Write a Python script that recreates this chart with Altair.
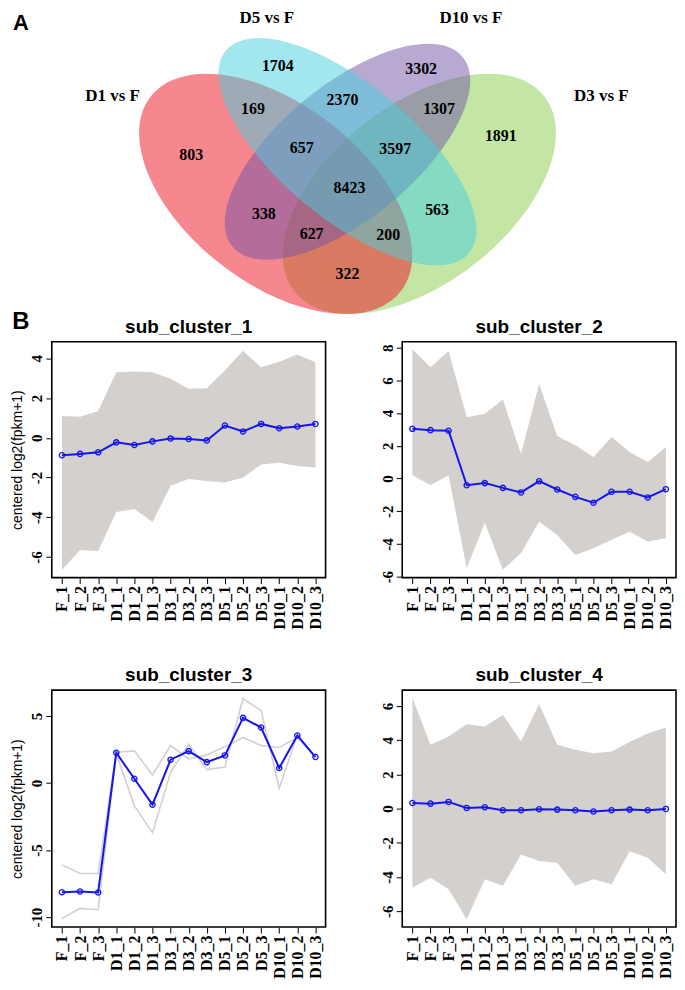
import json
import altair as alt
import pandas as pd

# ---------------- data ----------------
samples = ["F_1", "F_2", "F_3", "D1_1", "D1_2", "D1_3", "D3_1", "D3_2", "D3_3",
           "D5_1", "D5_2", "D5_3", "D10_1", "D10_2", "D10_3"]

# sub_cluster_1: centroid (blue) and the envelope of the grey member profiles
c1_mean = [-0.88, -0.81, -0.73, -0.23, -0.36, -0.18, -0.03, -0.06, -0.13, 0.62, 0.32, 0.70, 0.48, 0.57, 0.70]
c1_upper = [1.10, 1.06, 1.35, 3.30, 3.34, 3.30, 2.97, 2.47, 2.50, 3.39, 4.38, 3.55, 3.83, 4.20, 3.80]
c1_lower = [-6.65, -5.65, -5.70, -3.74, -3.58, -4.24, -2.42, -2.08, -2.17, -2.25, -2.00, -1.34, -1.26, -1.42, -1.50]

# sub_cluster_2
c2_mean = [3.04, 2.96, 2.92, -0.41, -0.28, -0.57, -0.85, -0.16, -0.67, -1.12, -1.48, -0.81, -0.81, -1.16, -0.65]
c2_upper = [7.91, 6.80, 7.80, 3.75, 3.96, 4.83, 1.50, 5.78, 2.60, 2.03, 1.32, 2.54, 1.62, 1.01, 1.93]
c2_lower = [0.20, -0.40, 0.20, -5.48, -2.70, -5.58, -4.56, -2.64, -3.45, -4.67, -4.26, -3.75, -3.25, -3.85, -3.65]

# sub_cluster_3: centroid and its two member genes
c3_mean = [-8.14, -8.09, -8.16, 2.26, 0.32, -1.61, 1.74, 2.38, 1.56, 2.06, 4.86, 4.14, 1.12, 3.55, 1.94]
c3_gene_a = [-6.10, -6.75, -6.75, 2.30, 2.40, 0.60, 2.80, 1.80, 2.10, 2.70, 3.40, 2.80, 2.65, 3.40, 1.94]
c3_gene_b = [-10.10, -9.35, -9.45, 2.20, -1.70, -3.70, 0.80, 2.90, 1.00, 1.20, 6.30, 5.40, -0.40, 3.60, 1.94]

# sub_cluster_4
c4_mean = [0.33, 0.29, 0.39, 0.04, 0.08, -0.10, -0.10, -0.04, -0.06, -0.10, -0.17, -0.10, -0.06, -0.10, -0.02]
c4_upper = [6.49, 3.73, 4.21, 4.93, 4.80, 5.48, 3.92, 6.12, 3.73, 3.44, 3.24, 3.34, 3.90, 4.40, 4.74]
c4_lower = [-4.62, -4.04, -4.72, -6.47, -4.14, -4.52, -2.68, -3.07, -3.17, -4.52, -4.14, -4.43, -2.49, -2.87, -3.84]

# Venn diagram
venn_sets = ["D1 vs F", "D5 vs F", "D10 vs F", "D3 vs F"]
venn_regions = ["D1", "D5", "D10", "D3", "D1&D5", "D5&D10", "D10&D3", "D1&D5&D10",
                "D5&D10&D3", "D1&D5&D10&D3", "D1&D10", "D5&D3", "D1&D10&D3", "D1&D5&D3", "D1&D3"]
venn_counts = [803, 1704, 3302, 1891, 169, 2370, 1307, 657, 3597, 8423, 338, 563, 627, 200, 322]

# ---------------- layout (positions / styles) ----------------
REGION_POS = {
    "D1": (192, 152), "D5": (279, 63), "D10": (423, 66), "D3": (503, 133),
    "D1&D5": (254, 106), "D5&D10": (344, 97), "D10&D3": (441, 106),
    "D1&D5&D10": (303, 145), "D5&D10&D3": (397, 146), "D1&D5&D10&D3": (351, 186),
    "D1&D10": (265, 212), "D5&D3": (439, 208), "D1&D10&D3": (313, 232),
    "D1&D5&D3": (390, 233), "D1&D3": (349, 272),
}
SET_LABEL_POS = {"D1 vs F": (113, 93), "D5 vs F": (268, 15), "D10 vs F": (473, 15), "D3 vs F": (604, 93)}
# set, centre x, centre y, semi-major axis (px), minor/major ratio, angle, colour, drawing order
ELLIPSES = [
    ("D3 vs F", 421.2, 191.6, 159.2, 0.563, 322.1, "#87CD4B", 0),
    ("D1 vs F", 276.9, 191.6, 159.2, 0.563, 37.9, "#F0101F", 1),
    ("D10 vs F", 349.0, 149.2, 149.8, 0.449, 320.5, "#7153A5", 2),
    ("D5 vs F", 349.0, 149.2, 158.9, 0.424, 39.8, "#45CFDD", 3),
]

GRAY = "#d3d0cd"
BLUE = "#1414f0"
SERIF = "Liberation Serif"
SANS = "Liberation Sans"

# ---------------- Venn ----------------
ell_df = pd.DataFrame([
    {"set": s, "x": cx, "y": cy,
     "path": f"M -1 0 A 1 {r} 0 1 1 1 0 A 1 {r} 0 1 1 -1 0 Z",
     "size": 4 * a * a, "angle": ang, "color": col, "order": o}
    for s, cx, cy, a, r, ang, col, o in ELLIPSES
]).sort_values("order")

cnt_df = pd.DataFrame({
    "region": venn_regions,
    "count": venn_counts,
    "x": [REGION_POS[r][0] for r in venn_regions],
    "y": [REGION_POS[r][1] for r in venn_regions],
})
set_df = pd.DataFrame({
    "set": venn_sets,
    "x": [SET_LABEL_POS[s][0] for s in venn_sets],
    "y": [SET_LABEL_POS[s][1] for s in venn_sets],
})
letter_a = pd.DataFrame({"t": ["A"], "x": [21], "y": [20]})

vx = alt.Scale(domain=[52, 677], nice=False, zero=False)
vy = alt.Scale(domain=[5, 316], nice=False, zero=False, reverse=True)

ell = alt.Chart(ell_df).mark_point(filled=True, opacity=0.5, strokeWidth=0, clip=True).encode(
    x=alt.X("x:Q", scale=vx, axis=None),
    y=alt.Y("y:Q", scale=vy, axis=None),
    shape=alt.Shape("path:N", scale=None),
    size=alt.Size("size:Q", scale=None),
    angle=alt.Angle("angle:Q", scale=None),
    color=alt.Color("color:N", scale=None),
    order=alt.Order("order:Q"),
)
counts = alt.Chart(cnt_df).mark_text(font=SERIF, fontWeight="bold", fontSize=16, color="black").encode(
    x=alt.X("x:Q", scale=vx, axis=None),
    y=alt.Y("y:Q", scale=vy, axis=None),
    text="count:N",
)
setnames = alt.Chart(set_df).mark_text(font=SERIF, fontWeight="bold", fontSize=17, color="black").encode(
    x=alt.X("x:Q", scale=vx, axis=None),
    y=alt.Y("y:Q", scale=vy, axis=None),
    text="set:N",
)
a_txt = alt.Chart(letter_a).mark_text(font=SANS, fontWeight="bold", fontSize=22, color="black").encode(
    x=alt.X("x:Q", scale=vx, axis=None),
    y=alt.Y("y:Q", scale=vy, axis=None),
    text="t:N",
)
venn = alt.layer(ell, counts, setnames, a_txt).properties(
    width=625, height=311, view=alt.ViewBackground(stroke="transparent")
)


# ---------------- line panels ----------------
LABEL_EXPR = json.dumps(samples) + "[datum.value]"


def panel(title, mean, ydom, yticks, height, band=None, traces=None, ytitle=None, letter=None):
    idx = list(range(len(samples)))
    x_enc = alt.X(
        "idx:Q",
        scale=alt.Scale(domain=[-0.56, 14.56], nice=False, zero=False),
        axis=alt.Axis(
            title=None, values=idx, labelExpr=LABEL_EXPR,
            labelAngle=270, labelAlign="right", labelBaseline="middle",
            labelFont=SERIF, labelFontWeight="bold", labelFontSize=16, labelColor="black",
            labelPadding=2, labelOverlap=False, labelFlush=False, tickSize=6, tickColor="black",
            tickWidth=1, domain=False, grid=False,
        ),
    )
    ax_kw = dict(
        values=yticks, labelExpr="toString(datum.value)",
        labelAngle=270, labelAlign="center", labelBaseline="alphabetic",
        labelFont=SERIF, labelFontWeight="bold", labelFontSize=15, labelColor="black",
        labelPadding=4, labelOverlap=False, labelFlush=False,
        tickSize=6, tickColor="black", tickWidth=1, domain=False, grid=False,
    )
    if ytitle:
        ax_kw.update(title=ytitle, titleFont=SANS, titleFontSize=14, titleFontWeight="normal",
                     titleColor="black", titleX=-30, titleY=height / 2, titleAngle=270,
                     titleAlign="center", titleBaseline="alphabetic")
    else:
        ax_kw.update(title=None)
    y_axis = alt.Axis(**ax_kw)
    y_scale = alt.Scale(domain=ydom, nice=False, zero=False)

    layers = []
    if band is not None:
        bdf = pd.DataFrame({"idx": idx, "hi": band[0], "lo": band[1]})
        layers.append(alt.Chart(bdf).mark_area(color=GRAY, opacity=1).encode(
            x=x_enc, y=alt.Y("hi:Q", scale=y_scale, axis=y_axis), y2="lo:Q"))
    if traces is not None:
        rows = []
        for k, tr in enumerate(traces):
            for i, v in enumerate(tr):
                rows.append({"idx": i, "value": v, "gene": f"g{k}"})
        tdf = pd.DataFrame(rows)
        layers.append(alt.Chart(tdf).mark_line(color=GRAY, strokeWidth=1.6).encode(
            x=x_enc, y=alt.Y("value:Q", scale=y_scale, axis=y_axis), detail="gene:N"))
    mdf = pd.DataFrame({"idx": idx, "value": mean})
    layers.append(alt.Chart(mdf).mark_line(color=BLUE, strokeWidth=2).encode(
        x=x_enc, y=alt.Y("value:Q", scale=y_scale, axis=y_axis)))
    layers.append(alt.Chart(mdf).mark_point(shape="circle", filled=False, color=BLUE, size=28,
                                             strokeWidth=1.3, opacity=1).encode(
        x=x_enc, y=alt.Y("value:Q", scale=y_scale, axis=y_axis)))
    tdf2 = pd.DataFrame({"t": [title]})
    layers.append(alt.Chart(tdf2).mark_text(font=SANS, fontSize=19, fontWeight="bold",
                                             color="black", baseline="middle").encode(
        x=alt.value(137.5), y=alt.value(-15), text="t:N"))
    if letter:
        ldf = pd.DataFrame({"t": [letter]})
        layers.append(alt.Chart(ldf).mark_text(font=SANS, fontWeight="bold", fontSize=24,
                                                color="black", baseline="middle").encode(
            x=alt.value(-31), y=alt.value(-20), text="t:N"))
    return alt.layer(*layers).properties(width=275, height=height)


p1 = panel("sub_cluster_1", c1_mean, [-7.04, 4.84], [-6, -4, -2, 0, 2, 4], 237,
           band=(c1_upper, c1_lower), ytitle="centered log2(fpkm+1)", letter="B")
p2 = panel("sub_cluster_2", c2_mean, [-6.06, 8.37], [-6, -4, -2, 0, 2, 4, 6, 8], 237,
           band=(c2_upper, c2_lower))
p3 = panel("sub_cluster_3", c3_mean, [-10.74, 6.93], [-10, -5, 0, 5], 238,
           traces=[c3_gene_a, c3_gene_b], ytitle="centered log2(fpkm+1)")
p4 = panel("sub_cluster_4", c4_mean, [-6.93, 6.93], [-6, -4, -2, 0, 2, 4, 6], 238,
           band=(c4_upper, c4_lower))

row1 = alt.hconcat(p1, p2, spacing=53)
row2 = alt.hconcat(p3, p4, spacing=53)
top = alt.vconcat(venn, row1, spacing=-10)
chart = alt.vconcat(top, row2, spacing=35).properties(
    padding={"left": 2, "top": -3, "right": 0, "bottom": 0}
).configure_view(stroke="black", strokeWidth=1.6)

chart.save("out.html", embed_options={"renderer": "svg", "actions": False})
